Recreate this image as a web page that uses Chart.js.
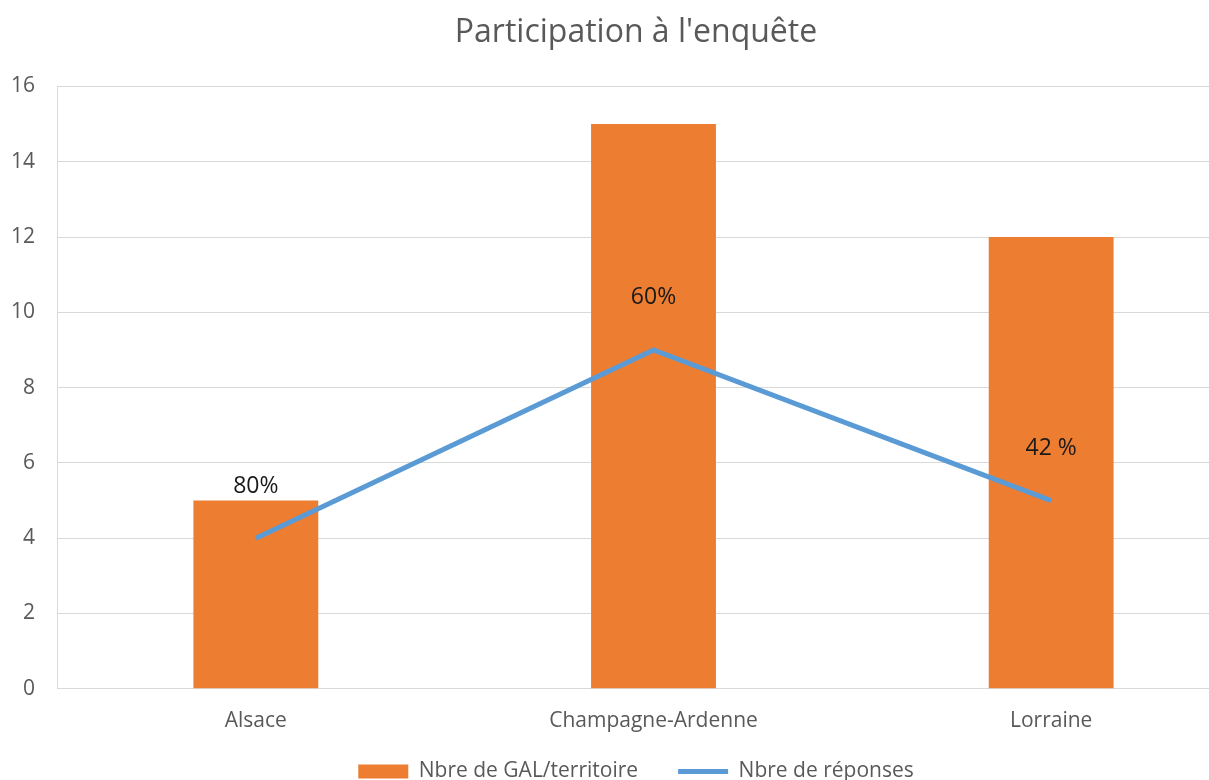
<!DOCTYPE html>
<html>
<head>
<meta charset="utf-8">
<script src="https://cdn.jsdelivr.net/npm/chart.js@4"></script>
<style>
  html, body { margin: 0; padding: 0; background: #ffffff; overflow: hidden; }
  #wrap { position: relative; width: 1272px; height: 825px; }
</style>
</head>
<body>
<div id="wrap"><canvas id="participationChart"></canvas></div>
<script>
var regions = ["Alsace", "Champagne-Ardenne", "Lorraine"];
var nbreGal = [5, 15, 12];
var nbreReponses = [4, 9, 5];
var tauxLabels = ["80%", "60%", "42 %"];
var yTicks = [0, 2, 4, 6, 8, 10, 12, 14, 16];

var FONT = "'Open Sans', sans-serif";

// écrit les pourcentages au-dessus des points de la courbe
var tauxPlugin = {
  id: "tauxPlugin",
  afterLayout: function (chart) {
    // remonte un peu la légende (elle est coupée en bas dans l'original)
    chart.legend.top -= 33;
    chart.legend.bottom -= 33;
  },
  afterDatasetsDraw: function (chart) {
    var meta = chart.getDatasetMeta(1);
    var ctx = chart.ctx;
    ctx.save();
    ctx.font = "23px " + FONT;
    ctx.fillStyle = "#1a1a1a";
    ctx.textAlign = "center";
    ctx.textBaseline = "middle";
    meta.data.forEach(function (pt, i) {
      ctx.fillText(tauxLabels[i], pt.x, pt.y - 52);
    });
    ctx.restore();
  },
};

var ctx = document.getElementById("participationChart").getContext("2d");

var myChart = new Chart(ctx, {
  type: "bar",
  data: {
    labels: regions,
    datasets: [
      {
        label: "Nbre de GAL/territoire",
        data: nbreGal,
        backgroundColor: "#ED7D31",
        borderWidth: 0,
        categoryPercentage: 0.314,
        barPercentage: 1,
        pointStyle: "rect",
        order: 1,
      },
      {
        type: "line",
        label: "Nbre de réponses",
        data: nbreReponses,
        borderColor: "#5B9BD5",
        backgroundColor: "#5B9BD5",
        borderWidth: 5,
        pointRadius: 0,
        pointStyle: "line",
        tension: 0,
        order: 0,
      },
    ],
  },
  options: {
    responsive: true,
    maintainAspectRatio: false,
    animation: false,
    layout: {
      padding: 0,
    },
    scales: {
      x: {
        afterFit: function (scale) {
          scale.paddingRight = 22;
        },
        grid: { display: true, drawOnChartArea: false, drawTicks: false },
        border: { display: true, color: "#D9D9D9", width: 1 },
        ticks: {
          color: "#595959",
          font: { family: FONT, size: 21 },
          padding: 20,
        },
      },
      y: {
        min: 0,
        max: 16,
        afterFit: function (scale) {
          scale.width = 57;
        },
        afterBuildTicks: function (scale) {
          scale.ticks = yTicks.map(function (v) { return { value: v }; });
        },
        grid: { color: "#D9D9D9", drawTicks: false },
        border: { display: true, color: "#D9D9D9", width: 1 },
        ticks: {
          color: "#595959",
          font: { family: FONT, size: 21 },
          padding: 22,
        },
      },
    },
    plugins: {
      title: {
        display: true,
        text: "Participation à l'enquête",
        color: "#595959",
        font: { family: FONT, size: 32, weight: "normal" },
        padding: { top: 14, bottom: 34 },
      },
      legend: {
        display: true,
        position: "bottom",
        labels: {
          color: "#595959",
          font: { family: FONT, size: 21 },
          usePointStyle: true,
          pointStyleWidth: 50,
          boxHeight: 14,
          padding: 40,
          sort: function (a, b) { return a.datasetIndex - b.datasetIndex; },
        },
      },
      tooltip: { enabled: false },
    },
  },
  plugins: [tauxPlugin],
});
</script>
</body>
</html>
